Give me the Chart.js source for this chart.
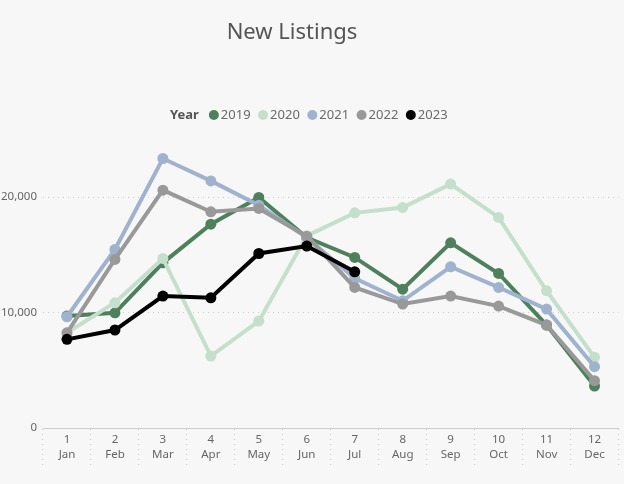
<!DOCTYPE html>
<html>
<head>
<meta charset="utf-8">
<script src="https://cdn.jsdelivr.net/npm/chart.js@4.4.0/dist/chart.umd.min.js"></script>
<style>
  html, body { margin: 0; padding: 0; background: #f7f7f7; }
  #wrap { width: 624px; height: 484px; position: relative; }
</style>
</head>
<body>
<div id="wrap"><canvas id="chart"></canvas></div>
<script>
// month numbers and names (two-level x axis)
var monthNums = ['1', '2', '3', '4', '5', '6', '7', '8', '9', '10', '11', '12'];
var monthNames = ['Jan', 'Feb', 'Mar', 'Apr', 'May', 'Jun', 'Jul', 'Aug', 'Sep', 'Oct', 'Nov', 'Dec'];

var years = ['2019', '2020', '2021', '2022', '2023'];
var colours = ['#4f805c', '#c4e0cc', '#9fb2ce', '#999999', '#000000'];

var listings2019 = [9700, 9980, 14310, 17660, 19970, 16500, 14780, 12030, 16040, 13390, 8920, 3640];
var listings2020 = [8250, 10850, 14690, 6230, 9260, 16650, 18640, 19110, 21130, 18240, 11890, 6120];
var listings2021 = [9640, 15470, 23350, 21410, 19310, 16500, 12960, 11020, 13970, 12180, 10300, 5310];
var listings2022 = [8250, 14610, 20610, 18730, 19020, 16620, 12180, 10740, 11430, 10560, 8920, 4100];
var listings2023 = [7680, 8490, 11430, 11280, 15120, 15760, 13530];

var yTicks = [0, 10000, 20000];

var labels = monthNums.map(function(n, i) {
    return [n, monthNames[i]];
});

var series = [listings2019, listings2020, listings2021, listings2022, listings2023];
var datasets = series.map(function(values, i) {
    return {
        label: years[i],
        data: values,
        borderColor: colours[i],
        backgroundColor: colours[i],
        borderWidth: 4,
        pointRadius: 5.5,
        pointHoverRadius: 5.5,
        pointBorderWidth: 0,
        tension: 0,
        // newest year drawn on top
        order: series.length - i
    };
});

// title plus inline legend with a bold "Year" caption, like the original
var header = {
    id: 'header',
    afterDraw: function(chart) {
        var ctx = chart.ctx;
        ctx.save();
        ctx.textBaseline = 'middle';
        ctx.textAlign = 'center';
        ctx.font = '22px "Noto Sans", sans-serif';
        ctx.fillStyle = '#555555';
        ctx.fillText('New Listings', 292, 33);

        var y = 115;
        var x = 170;
        ctx.textAlign = 'left';
        ctx.font = 'bold 13px "Noto Sans", sans-serif';
        ctx.fillText('Year', x, y);
        x += ctx.measureText('Year').width + 10;
        ctx.font = '13px "Noto Sans", sans-serif';
        chart.data.datasets.forEach(function(ds) {
            ctx.beginPath();
            ctx.fillStyle = ds.borderColor;
            ctx.arc(x + 5, y, 5, 0, Math.PI * 2);
            ctx.fill();
            ctx.fillStyle = '#6a6a6a';
            ctx.fillText(ds.label, x + 12, y);
            x += 12 + ctx.measureText(ds.label).width + 7.5;
        });
        ctx.restore();
    }
};

new Chart(document.getElementById('chart'), {
    type: 'line',
    data: {
        labels: labels,
        datasets: datasets
    },
    plugins: [header],
    options: {
        responsive: true,
        maintainAspectRatio: false,
        animation: false,
        layout: {
            padding: { left: 0, right: 0, top: 151, bottom: 0 }
        },
        plugins: {
            legend: { display: false },
            tooltip: { enabled: false },
            title: { display: false }
        },
        scales: {
            x: {
                offset: true,
                grid: {
                    offset: true,
                    drawOnChartArea: false,
                    drawTicks: true,
                    tickLength: 40,
                    tickWidth: 1,
                    color: '#cccccc',
                    tickColor: '#cccccc',
                    tickBorderDash: [1, 4]
                },
                border: { display: true, dash: [1, 4], color: '#cccccc' },
                ticks: {
                    color: '#666666',
                    padding: -35.5,
                    maxRotation: 0,
                    autoSkip: false,
                    font: { family: '"Noto Sans", sans-serif', size: 11.5, lineHeight: 1.3 }
                },
                afterFit: function(scale) {
                    scale.height = 56;
                    scale.paddingLeft = 0;
                    scale.paddingRight = 0;
                }
            },
            y: {
                min: 0,
                max: 24000,
                grid: {
                    drawTicks: false,
                    color: '#cccccc'
                },
                border: { display: false, dash: [1, 4] },
                ticks: {
                    padding: 6,
                    color: '#666666',
                    font: { family: '"Noto Sans", sans-serif', size: 11.5 },
                    callback: function(v) {
                        return v.toLocaleString('en-US');
                    }
                },
                afterBuildTicks: function(scale) {
                    scale.ticks = yTicks.map(function(v) {
                        return { value: v };
                    });
                },
                afterFit: function(scale) {
                    scale.width = 43;
                    scale.paddingTop = 0;
                    scale.paddingBottom = 0;
                }
            }
        }
    }
});
</script>
</body>
</html>
